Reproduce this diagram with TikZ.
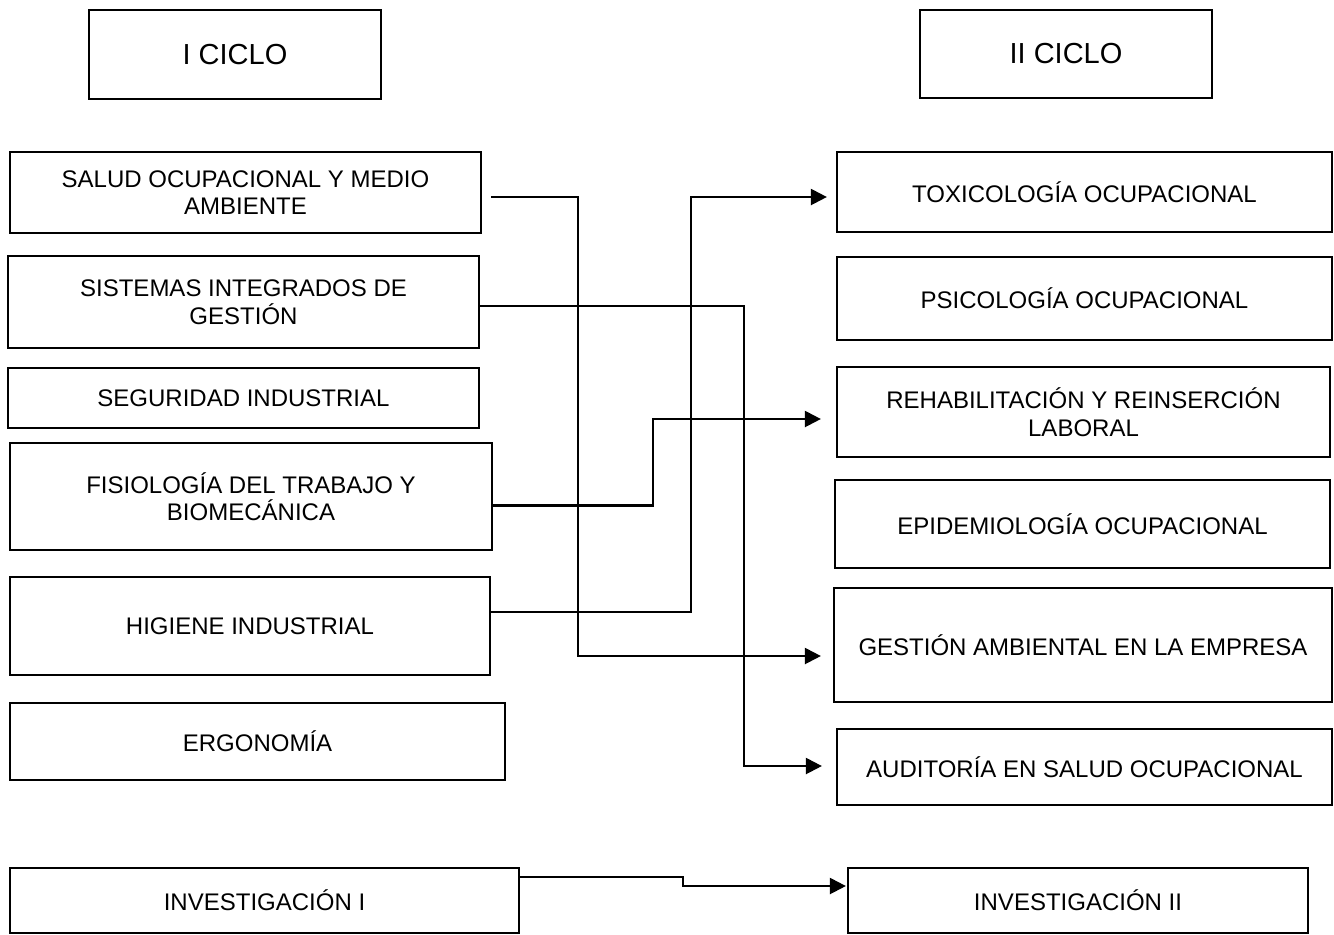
\documentclass[tikz,border=0pt]{standalone}
\usepackage{fontspec}
\setmainfont{Liberation Sans}
\usetikzlibrary{arrows.meta}
\tikzset{
  box/.style={draw=black, line width=1.1pt, inner sep=0pt, align=center,
    font=\fontsize{12pt}{13.8pt}\selectfont},
  title/.style={box, font=\fontsize{14.5pt}{17pt}\selectfont},
  conn/.style={draw=black, line width=1.1pt, -{Triangle[length=8pt,width=8pt]}}
}
\begin{document}
\begin{tikzpicture}[x=0.5pt,y=-0.5pt]
\useasboundingbox (0,0) rectangle (1334,934);
% titles
\node[title, minimum width=146pt, minimum height=44.5pt] (c1) at (235,54.5) {I CICLO};
\node[title, minimum width=146pt, minimum height=44pt] (c2) at (1066,54) {II CICLO};
% left column
\node[box, minimum width=235.5pt, minimum height=40.5pt] (salud) at (245.5,192.5) {SALUD OCUPACIONAL Y MEDIO\\AMBIENTE};
\node[box, minimum width=235.5pt, minimum height=46pt] (sistemas) at (243.5,302) {SISTEMAS INTEGRADOS DE\\GESTIÓN};
\node[box, minimum width=235.5pt, minimum height=30pt] (seguridad) at (243.5,398) {SEGURIDAD INDUSTRIAL};
\node[box, minimum width=241pt, minimum height=53.5pt] (fisio) at (251,496.5) {FISIOLOGÍA DEL TRABAJO Y\\BIOMECÁNICA};
\node[box, minimum width=240pt, minimum height=49pt] (higiene) at (250,626) {HIGIENE INDUSTRIAL};
\node[box, minimum width=247.5pt, minimum height=38.5pt] (ergo) at (257.5,741.5) {ERGONOMÍA};
\node[box, minimum width=254.5pt, minimum height=32.5pt] (inv1) at (264.5,900.5) {INVESTIGACIÓN I};
% right column
\node[box, minimum width=247.5pt, minimum height=40pt] (toxico) at (1084.5,192) {TOXICOLOGÍA OCUPACIONAL};
\node[box, minimum width=247.5pt, minimum height=41.5pt] (psico) at (1084.5,298.5) {PSICOLOGÍA OCUPACIONAL};
\node[box, minimum width=246.5pt, minimum height=45pt] (rehab) at (1083.5,412) {REHABILITACIÓN Y REINSERCIÓN\\LABORAL};
\node[box, minimum width=247.5pt, minimum height=44pt] (epid) at (1082.5,524) {EPIDEMIOLOGÍA OCUPACIONAL};
\node[box, minimum width=249pt, minimum height=57pt] (gestion) at (1083,645) {GESTIÓN AMBIENTAL EN LA EMPRESA};
\node[box, minimum width=247.5pt, minimum height=38pt] (audit) at (1084.5,767) {AUDITORÍA EN SALUD OCUPACIONAL};
\node[box, minimum width=230pt, minimum height=32.5pt] (inv2) at (1078,900.5) {INVESTIGACIÓN II};
% connectors
\draw[conn] ([shift={(9,4.5)}]salud.east) -| (578,656) -- ([shift={(-12,11)}]gestion.west);
\draw[conn] ([shift={(0,4)}]sistemas.east) -| (744,766) -- ([shift={(-14,-1)}]audit.west);
\draw[conn] ([shift={(0,9)}]fisio.east) -| (653,419) -- ([shift={(-15,7)}]rehab.west);
\draw[conn] ([shift={(0,-14)}]higiene.east) -| (691,197) -- ([shift={(-9,5)}]toxico.west);
\draw[conn] ([shift={(0,-23.5)}]inv1.east) -| (683,886) -- ([shift={(-1,-14.5)}]inv2.west);
\end{tikzpicture}
\end{document}
